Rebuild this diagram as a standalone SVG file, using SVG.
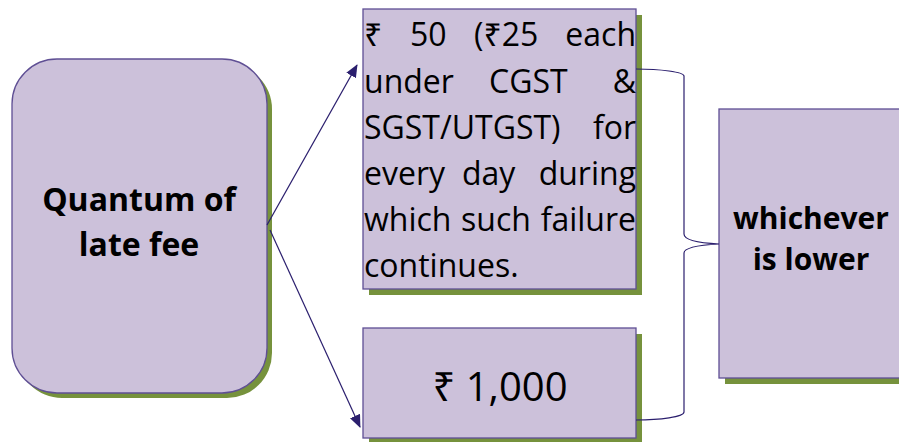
<svg xmlns="http://www.w3.org/2000/svg" width="899" height="442" viewBox="0 0 899 442">
<style>
.box{fill:#CCC1DA;stroke:#5F4F94;stroke-width:1.3}
.sh{fill:#76923C}
.b{font-family:"Open Sans","Noto Sans","DejaVu Sans",sans-serif;font-weight:bold;fill:#000}
.r{font-family:"Open Sans","Noto Sans","DejaVu Sans",sans-serif;fill:#000}
.ln{fill:none;stroke:#2B1F6E;stroke-width:1.2}
</style>
<defs>
<marker id="ah" viewBox="0 0 13 11" refX="12" refY="5.5" markerWidth="13" markerHeight="11" markerUnits="userSpaceOnUse" orient="auto">
<path d="M0,0 L13,5.5 L0,11 z" fill="#2B1F6E"/>
</marker>
</defs>
<g id="quantum">
<rect class="sh" x="17" y="64" width="255" height="334" rx="45"/>
<rect class="box" x="12" y="59" width="255" height="334" rx="45"/>
<text class="b" font-size="32" text-anchor="middle"><tspan x="139" y="211">Quantum of</tspan><tspan x="139" y="256">late fee</tspan></text>
</g>
<g id="perday">
<rect class="sh" x="369" y="15" width="273" height="280"/>
<rect class="box" x="363" y="9" width="273" height="280"/>
<g class="r" font-size="32">
<text x="364" y="46">₹</text><text x="410" y="46">50</text><text x="474" y="46">(₹25</text><text x="636" y="46" text-anchor="end">each</text>
<text x="364" y="93">under</text><text x="489" y="93">CGST</text><text x="636" y="93" text-anchor="end">&amp;</text>
<text x="364" y="139">SGST/UTGST)</text><text x="636" y="139" text-anchor="end">for</text>
<text x="364" y="185">every</text><text x="462" y="185">day</text><text x="636" y="185" text-anchor="end">during</text>
<text x="364" y="231">which</text><text x="461" y="231">such</text><text x="636" y="231" text-anchor="end">failure</text>
<text x="364" y="277">continues.</text>
</g>
</g>
<g id="max">
<rect class="sh" x="369" y="334" width="273" height="110"/>
<rect class="box" x="363" y="328" width="273" height="110"/>
<text class="r" font-size="40" x="500" y="401" text-anchor="middle">₹ 1,000</text>
</g>
<g id="lower">
<rect class="sh" x="725" y="115" width="182" height="269"/>
<rect class="box" x="719" y="109" width="182" height="269"/>
<text class="b" font-size="30" text-anchor="middle"><tspan x="811" y="229">whichever</tspan><tspan x="811" y="270">is lower</tspan></text>
</g>
<g id="connectors">
<line class="ln" x1="267" y1="225" x2="357" y2="65" marker-end="url(#ah)"/>
<line class="ln" x1="270" y1="230" x2="360" y2="427" marker-end="url(#ah)"/>
<path class="ln" d="M636,69 C660,69 684,72 684,76 L684,234 C684,240 700,243 719,244 C700,245 684,247 684,253 L684,412 C684,417 660,420 636,420"/>
</g>
</svg>
